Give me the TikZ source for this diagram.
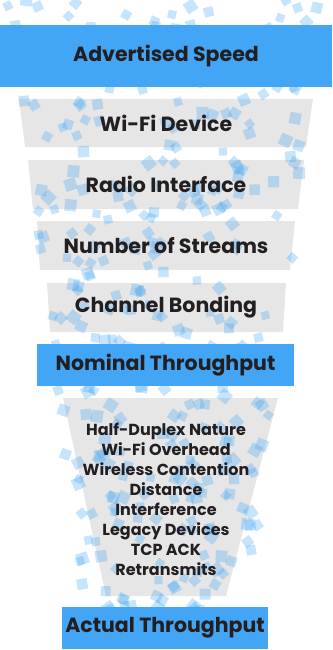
\documentclass[tikz,border=0pt]{standalone}
\usepackage{fontspec}
\setmainfont{Poppins}
\definecolor{wfblue}{HTML}{42A5F5}
\definecolor{wfgray}{HTML}{E6E6E6}
\definecolor{wftext}{HTML}{231F20}
\tikzset{
  bluebar/.style={fill=wfblue, inner sep=0pt, text=wftext, font=\bfseries\fontsize{20.5}{24}\selectfont},
  stagelbl/.style={text=wftext, font=\bfseries\fontsize{20.5}{24}\selectfont},
  losslbl/.style={text=wftext, align=center, font=\bfseries\fontsize{16}{20}\selectfont},
  chip/.style={fill=wfblue, opacity=0.3}
}
\begin{document}
\begin{tikzpicture}[x=1pt,y=-1pt]
\useasboundingbox (0,0) rectangle (332,650);
% funnel stages
\fill[wfgray] (19,99) -- (313,99) -- (306,147) -- (25,147) -- cycle;
\fill[wfgray] (28,160) -- (304,160) -- (298,209) -- (33,209) -- cycle;
\fill[wfgray] (37,221) -- (295,221) -- (290,270) -- (40,270) -- cycle;
\fill[wfgray] (47,283) -- (286,283) -- (283,332) -- (50,332) -- cycle;
\fill[wfgray] (63,398) -- (278,398) -- (226,596) -- (106,596) -- cycle;
% scattered packets
\pgfmathsetseed{11}
\foreach \i in {1,...,340}{
  \pgfmathsetmacro{\yy}{rnd*615}
  \pgfmathsetmacro{\hw}{160-0.13*\yy}
  \pgfmathsetmacro{\xx}{166+(2*rnd-1)*\hw}
  \pgfmathsetmacro{\rr}{rnd*90}
  \pgfmathsetmacro{\ss}{4+rnd*2}
  \fill[chip, rotate around={\rr:(\xx,\yy)}] (\xx-\ss,\yy-\ss) rectangle (\xx+\ss,\yy+\ss);
}
% speed levels
\node[bluebar, minimum width=332pt, minimum height=62pt] (adv) at (166,56) {Advertised Speed};
\node[bluebar, minimum width=257pt, minimum height=42pt] (nom) at (165.5,365) {Nominal Throughput};
\node[bluebar, minimum width=206pt, minimum height=42pt] (act) at (165,628) {Actual Throughput};
% labels
\node[stagelbl] (dev) at (166,123) {Wi-Fi Device};
\node[stagelbl] (radio) at (166,184.5) {Radio Interface};
\node[stagelbl] (streams) at (166,245.5) {Number of Streams};
\node[stagelbl] (bond) at (166,307.5) {Channel Bonding};
\node[losslbl] (loss) at (166,499) {Half-Duplex Nature\\Wi-Fi Overhead\\Wireless Contention\\Distance\\Interference\\Legacy Devices\\TCP ACK\\Retransmits};
\end{tikzpicture}
\end{document}
